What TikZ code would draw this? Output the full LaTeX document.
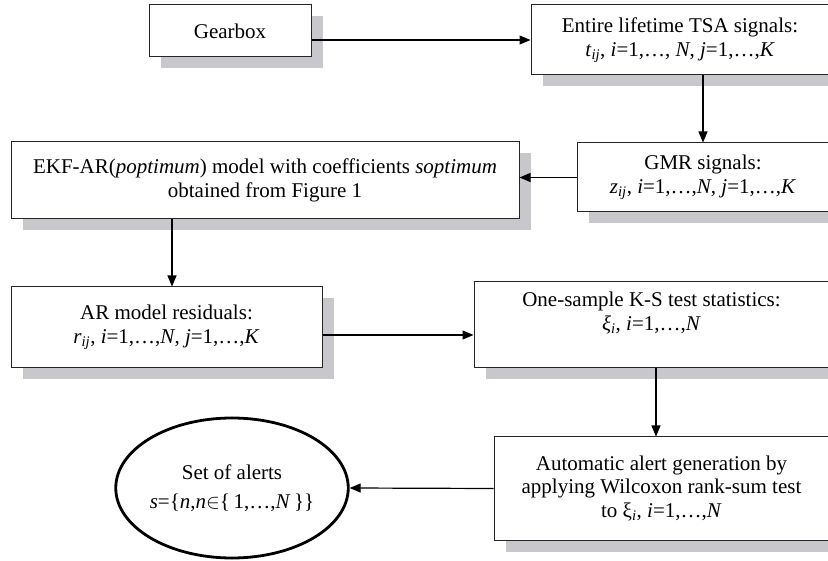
\documentclass[tikz,border=0pt]{standalone}
\usepackage{fontspec}
\setmainfont{Liberation Serif}
\usetikzlibrary{arrows.meta,shadows,shapes.geometric}
\definecolor{shgray}{RGB}{200,200,204}
\begin{document}
\begin{tikzpicture}[x=1pt,y=-1pt,
  box/.style={draw=black!85, line width=1pt, fill=white, align=center, inner sep=0pt,
    font=\fontsize{21}{23.5}\selectfont,
    drop shadow={shadow xshift=11.5pt, shadow yshift=-11.5pt, fill=shgray, opacity=1}},
  ovalbox/.style={draw=black, line width=2.8pt, ellipse, fill=white, align=center, inner sep=0pt,
    font=\fontsize{21}{29}\selectfont},
  arr/.style={line width=1.2pt, -{Triangle[length=11pt,width=9pt]}}]
\useasboundingbox (0,0) rectangle (828,561);

\node[box, minimum width=162pt, minimum height=52pt] (gear) at (230,31) {Gearbox};
\node[box, minimum width=298pt, minimum height=70pt] (tsa) at (680,40)
  {Entire lifetime TSA signals:\\ \textit{t}\textsubscript{\textit{ij}}, \textit{i}=1,…, \textit{N}, \textit{j}=1,…,\textit{K}};
\node[box, minimum width=252pt, minimum height=69pt] (gmr) at (703,177.5)
  {GMR signals:\\ \textit{z}\textsubscript{\textit{ij}}, \textit{i}=1,…,\textit{N}, \textit{j}=1,…,\textit{K}};
\node[box, minimum width=508pt, minimum height=77pt] (ekf) at (265,180.5)
  {EKF-AR(\textit{poptimum}) model with coefficients \textit{soptimum}\\ obtained from Figure 1};
\node[box, minimum width=311pt, minimum height=81pt] (ar) at (166.5,327.5)
  {AR model residuals:\\ \textit{r}\textsubscript{\textit{ij}}, \textit{i}=1,…,\textit{N}, \textit{j}=1,…,\textit{K}};
\node[box, minimum width=355pt, minimum height=86pt, text depth=28pt] (ks) at (651.5,325)
  {One-sample K-S test statistics:\\ \textit{ξ}\textsubscript{\textit{i}}, \textit{i}=1,…,\textit{N}};
\node[box, minimum width=335pt, minimum height=103pt] (wil) at (661.5,488.5)
  {Automatic alert generation by\\ applying Wilcoxon rank-sum test\\ to ξ\textsubscript{\textit{i}}, \textit{i}=1,…,\textit{N}};
\node[ovalbox, minimum width=220pt, minimum height=140pt] (ell) at (232,488)
  {Set of alerts\\ \textit{s}=\{\textit{n},\textit{n}$\in$\{\,1,…,\textit{N}\,\}\}};

\coordinate (c1) at (172,0);
\coordinate (c2) at (0,335);
\coordinate (c3) at (656,0);

\draw[arr] (tsa.west -| gear.east) -- (tsa.west);
\draw[arr] (tsa.south -| gmr.north) -- (gmr.north);
\draw[arr] (gmr.west) -- (gmr.west -| ekf.east);
\draw[arr] (ekf.south -| c1) -- (ar.north -| c1);
\draw[arr] (ar.east |- c2) -- (ks.west |- c2);
\draw[arr] (ks.south -| c3) -- (wil.north -| c3);
\draw[arr] (wil.west) -- (ell.east);
\end{tikzpicture}
\end{document}
